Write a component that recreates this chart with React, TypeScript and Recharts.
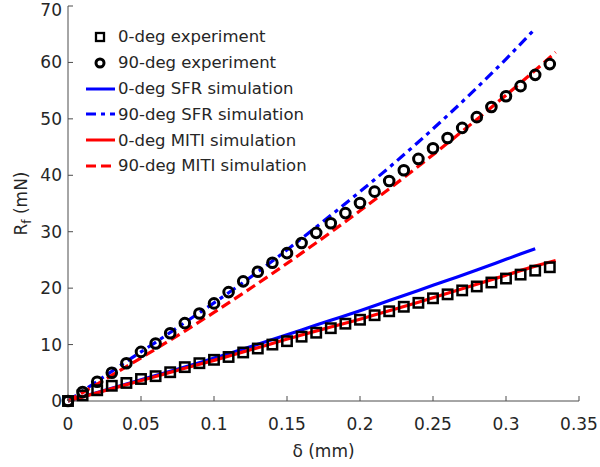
import React from 'react';
import { ComposedChart, Line, Scatter, XAxis, YAxis, Legend } from 'recharts';

// measured displacement (mm) and friction force (mN)
const delta = [
    0, 0.01, 0.02, 0.03, 0.04, 0.05, 0.06, 0.07, 0.08, 0.09, 0.1, 0.11,
    0.12, 0.13, 0.14, 0.15, 0.16, 0.17, 0.18, 0.19, 0.2, 0.21, 0.22, 0.23,
    0.24, 0.25, 0.26, 0.27, 0.28, 0.29, 0.3, 0.31, 0.32, 0.33,
];
const exp0 = [
    0, 1.0, 1.9, 2.7, 3.2, 3.9, 4.4, 5.1, 6.0, 6.7, 7.3, 7.8,
    8.6, 9.3, 10.0, 10.6, 11.4, 12.1, 12.9, 13.7, 14.4, 15.2, 15.9, 16.7,
    17.4, 18.2, 18.9, 19.6, 20.3, 21.0, 21.7, 22.4, 23.1, 23.7,
];
const exp90 = [
    0, 1.6, 3.4, 5.0, 6.7, 8.7, 10.2, 12.0, 13.8, 15.5, 17.3, 19.3,
    21.2, 22.9, 24.5, 26.2, 28.0, 29.8, 31.5, 33.3, 35.1, 37.1, 39.0, 40.9,
    42.9, 44.8, 46.6, 48.4, 50.3, 52.1, 54.0, 55.8, 57.8, 59.7,
];

// simulations
const sfrX = [0, 0.02, 0.04, 0.06, 0.08, 0.1, 0.12, 0.14, 0.16, 0.18, 0.2, 0.22, 0.24, 0.26, 0.28, 0.3, 0.32];
const sfr0 = [0, 1.5, 3.0, 4.5, 6.0, 7.6, 9.2, 10.9, 12.6, 14.3, 16.0, 17.8, 19.6, 21.4, 23.2, 25.1, 27.0];
const sfr90 = [0, 3.5, 7.0, 10.4, 13.9, 17.4, 21.0, 24.8, 28.8, 32.9, 37.1, 41.4, 45.9, 50.6, 55.5, 60.6, 66.0];

const mitiX = [0, 0.02, 0.04, 0.06, 0.08, 0.1, 0.12, 0.14, 0.16, 0.18, 0.2, 0.22, 0.24, 0.26, 0.28, 0.3, 0.32, 0.334];
const miti0 = [0, 1.45, 2.9, 4.35, 5.8, 7.2, 8.7, 10.2, 11.7, 13.1, 14.5, 16.0, 17.5, 19.1, 20.7, 22.3, 23.9, 24.9];
const miti90 = [0, 3.0, 6.1, 9.2, 12.4, 15.7, 19.1, 22.6, 26.2, 29.9, 33.7, 37.6, 41.6, 45.7, 49.9, 54.2, 58.6, 61.8];

const xTicks = [0, 0.05, 0.1, 0.15, 0.2, 0.25, 0.3, 0.35];
const yTicks = [0, 10, 20, 30, 40, 50, 60, 70];

const toPoints = (xs: number[], ys: number[]) => xs.map((x, i) => ({ x, y: ys[i] }));

const FONT = '"DejaVu Sans", sans-serif';
const TXT = '#262626';
const BLUE = '#0000ff';
const RED = '#ff0000';

const SquareDot = (props: any) => (
    <rect x={props.cx - 4.7} y={props.cy - 4.7} width={9.4} height={9.4} fill="none" stroke="#000" strokeWidth={2.5} />
);
const CircleDot = (props: any) => (
    <circle cx={props.cx} cy={props.cy} r={4.8} fill="none" stroke="#000" strokeWidth={3} />
);

const legendRows = [
    { name: '0-deg experiment', kind: 'square' },
    { name: '90-deg experiment', kind: 'circle' },
    { name: '0-deg SFR simulation', kind: 'line', color: BLUE, dash: undefined },
    { name: '90-deg SFR simulation', kind: 'line', color: BLUE, dash: '10 5 4 5' },
    { name: '0-deg MITI simulation', kind: 'line', color: RED, dash: undefined },
    { name: '90-deg MITI simulation', kind: 'line', color: RED, dash: '10 5' },
];

const renderLegend = () => (
    <div style={{ fontFamily: FONT, fontSize: 16.5, color: TXT }}>
        {legendRows.map(r => (
            <div key={r.name} style={{ display: 'flex', alignItems: 'center', height: 25.8 }}>
                <svg width={32} height={26}>
                    {r.kind === 'square' && <rect x={10} y={9} width={8} height={8} fill="none" stroke="#000" strokeWidth={2.3} />}
                    {r.kind === 'circle' && <circle cx={14} cy={13} r={4} fill="none" stroke="#000" strokeWidth={3} />}
                    {r.kind === 'line' && (
                        <line x1={0} x2={29} y1={13} y2={13} stroke={r.color} strokeWidth={3} strokeDasharray={r.dash} />
                    )}
                </svg>
                <span style={{ whiteSpace: 'nowrap' }}>{r.name}</span>
            </div>
        ))}
    </div>
);

const YLabel = (props: any) => {
    const vb = props.viewBox;
    const cy = vb.y + vb.height / 2;
    return (
        <text transform={`translate(27, ${cy}) rotate(-90)`} textAnchor="middle" fontFamily={FONT} fontSize={17} fill={TXT}>
            R<tspan fontSize={12} dy={4}>f</tspan>
            <tspan dy={-4}> (mN)</tspan>
        </text>
    );
};

const XLabel = (props: any) => {
    const vb = props.viewBox;
    return (
        <text x={vb.x + vb.width / 2} y={457} textAnchor="middle" fontFamily={FONT} fontSize={17} fill={TXT}>
            δ (mm)
        </text>
    );
};

const App: React.FC = () => {
    const tickStyle = { fontFamily: FONT, fontSize: 17, fill: TXT };
    return (
        <div style={{ width: 600, height: 467 }}>
            <style>{'body{margin:0}'}</style>
            <ComposedChart width={600} height={467} margin={{ top: 6, right: 21, left: 0, bottom: 0 }}>
                <XAxis
                    type="number"
                    dataKey="x"
                    domain={[0, 0.35]}
                    ticks={xTicks}
                    height={66}
                    tickSize={-5}
                    tickMargin={22}
                    stroke="#4d4d4d"
                    tick={tickStyle}
                    label={<XLabel />}
                />
                <YAxis
                    type="number"
                    dataKey="y"
                    domain={[0, 70]}
                    ticks={yTicks}
                    width={68}
                    tickSize={-5}
                    tickMargin={11}
                    stroke="#4d4d4d"
                    tick={tickStyle}
                    label={<YLabel />}
                />
                <Legend
                    layout="vertical"
                    align="center"
                    verticalAlign="middle"
                    content={renderLegend}
                    wrapperStyle={{ top: 24, left: 86, width: 'auto' }}
                />
                <Scatter name="0-deg experiment" data={toPoints(delta, exp0)} dataKey="y" shape={SquareDot} isAnimationActive={false} />
                <Scatter name="90-deg experiment" data={toPoints(delta, exp90)} dataKey="y" shape={CircleDot} isAnimationActive={false} />
                <Line name="0-deg SFR simulation" data={toPoints(sfrX, sfr0)} dataKey="y" type="monotone" stroke={BLUE} strokeWidth={3.2} dot={false} isAnimationActive={false} />
                <Line name="90-deg SFR simulation" data={toPoints(sfrX, sfr90)} dataKey="y" type="monotone" stroke={BLUE} strokeWidth={3.2} strokeDasharray="10 5 4 5" dot={false} isAnimationActive={false} />
                <Line name="0-deg MITI simulation" data={toPoints(mitiX, miti0)} dataKey="y" type="monotone" stroke={RED} strokeWidth={3.2} dot={false} isAnimationActive={false} />
                <Line name="90-deg MITI simulation" data={toPoints(mitiX, miti90)} dataKey="y" type="monotone" stroke={RED} strokeWidth={3.2} strokeDasharray="10 5" dot={false} isAnimationActive={false} />
            </ComposedChart>
        </div>
    );
};

export default App;
